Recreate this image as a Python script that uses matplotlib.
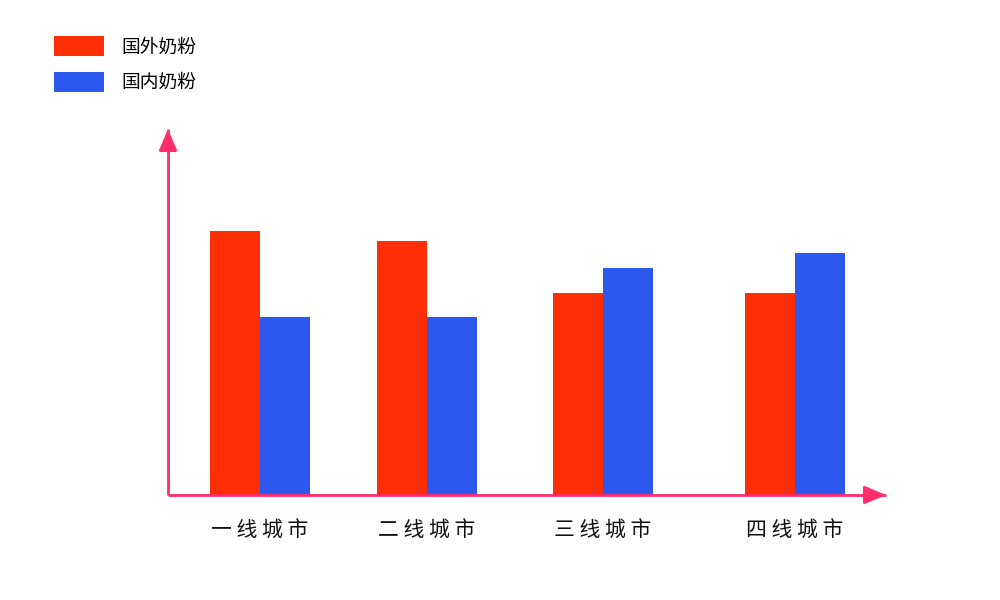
import matplotlib.pyplot as plt
import numpy as np

plt.rcParams['font.family'] = ['Noto Sans CJK SC', 'DejaVu Sans']

cities = ['一线城市', '二线城市', '三线城市', '四线城市']
foreign_milk = [264, 254, 202, 202]
domestic_milk = [178, 178, 227, 242]
series_names = ['国外奶粉', '国内奶粉']

# group centres (axis px units, spacing in the original is not even)
centers = np.array([92, 259, 435, 627])
bar_w = 50
red = '#ff2e05'
blue = '#2c58ef'
pink = '#ff2d6a'

fig = plt.figure(figsize=(10, 6), dpi=100)
ax = fig.add_axes([0.168, 0.175, 0.718, 0.61])
ax.set_xlim(0, 718)
ax.set_ylim(0, 366)

ax.bar(centers - bar_w / 2, foreign_milk, bar_w, color=red, label=series_names[0])
ax.bar(centers + bar_w / 2, domestic_milk, bar_w, color=blue, label=series_names[1])

for s in ax.spines.values():
    s.set_visible(False)
ax.set_yticks([])
ax.set_xticks(centers)
ax.set_xticklabels([' '.join(c) for c in cities], fontsize=15, color='#111111')
ax.tick_params(axis='x', length=0, pad=18)

# axes with arrow heads
ax.plot([0, 1], [0, 0], transform=ax.transAxes, color=pink, lw=2, clip_on=False,
        solid_capstyle='butt')
ax.plot([0, 0], [0, 1], transform=ax.transAxes, color=pink, lw=2, clip_on=False,
        solid_capstyle='butt')
ax.annotate('', xy=(1.0, 0), xytext=(0.97, 0), xycoords='axes fraction',
            arrowprops=dict(arrowstyle='-|>,head_length=1.3,head_width=0.55',
                            color=pink, lw=2, shrinkA=0, shrinkB=0))
ax.annotate('', xy=(0, 1.0), xytext=(0, 0.95), xycoords='axes fraction',
            arrowprops=dict(arrowstyle='-|>,head_length=1.3,head_width=0.55',
                            color=pink, lw=2, shrinkA=0, shrinkB=0))

fig.legend(loc='upper left', bbox_to_anchor=(0.054, 0.94), frameon=False,
           fontsize=13.5, handlelength=2.67, handleheight=1.3, handletextpad=0.9,
           labelspacing=0.75, borderpad=0, borderaxespad=0)

fig.savefig('out.png', dpi=100)
